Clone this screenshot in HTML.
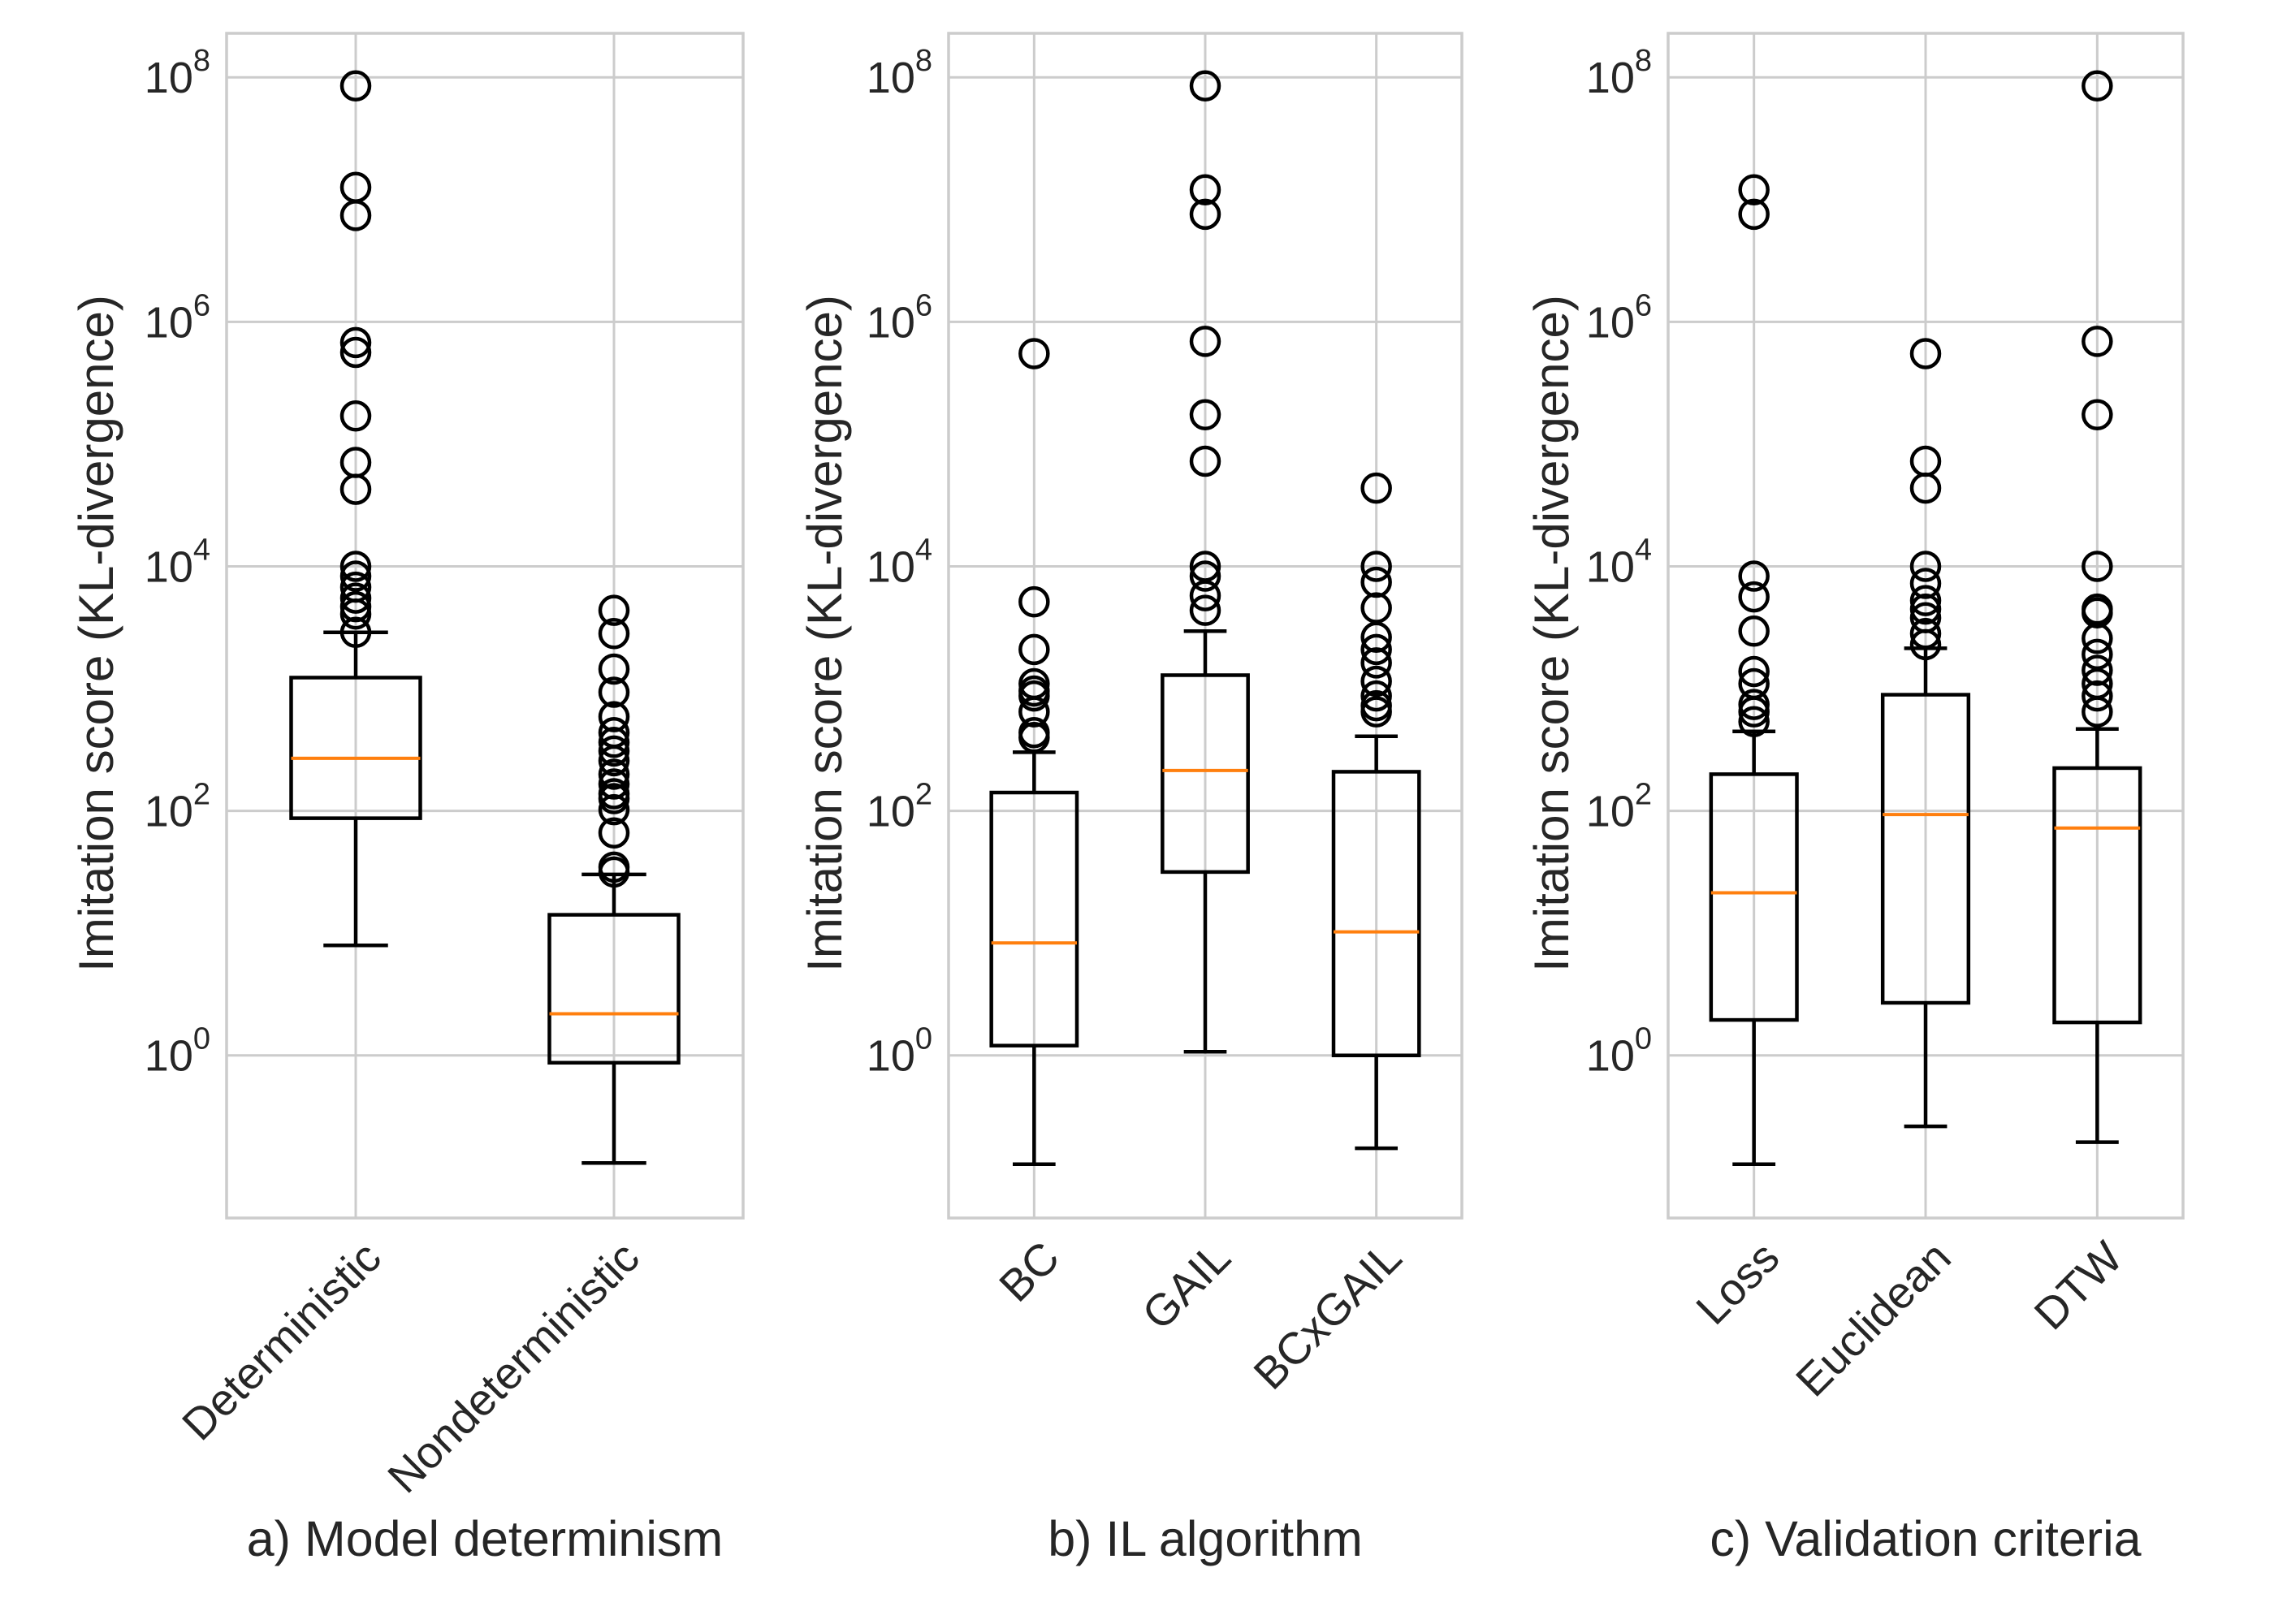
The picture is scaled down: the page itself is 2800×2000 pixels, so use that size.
<!DOCTYPE html>
<html><head><meta charset="utf-8">
<style>
html,body{margin:0;padding:0;background:#fff;}
svg{display:block;font-family:"Liberation Sans",Arial,sans-serif;}
</style></head>
<body>
<svg id="chart" width="2800" height="2000" viewBox="0 0 2800 2000" xmlns="http://www.w3.org/2000/svg"></svg>
<script>
// Data (log10 values of imitation score)
const panelTitles = ["a) Model determinism", "b) IL algorithm", "c) Validation criteria"];
const catsA = ["Deterministic", "Nondeterministic"];
const catsB = ["BC", "GAIL", "BCxGAIL"];
const catsC = ["Loss", "Euclidean", "DTW"];
// [lowWhisker, Q1, median, Q3, highWhisker] in log10
const statsA = [[0.90,1.94,2.43,3.09,3.46],[-0.88,-0.06,0.34,1.15,1.48]];
const statsB = [[-0.89,0.08,0.92,2.15,2.48],[0.03,1.5,2.33,3.11,3.47],[-0.76,0,1.01,2.32,2.61]];
const statsC = [[-0.89,0.29,1.33,2.30,2.65],[-0.58,0.43,1.97,2.95,3.33],[-0.71,0.27,1.86,2.35,2.67]];
const outA = [[7.93,7.10,6.87,5.83,5.75,5.23,4.85,4.63,4.0,3.92,3.83,3.74,3.67,3.61,3.46],
              [3.64,3.45,3.16,2.97,2.77,2.64,2.56,2.49,2.41,2.30,2.22,2.14,2.10,2.01,1.82,1.54,1.50]];
const outB = [[5.74,3.71,3.32,3.04,2.98,2.94,2.81,2.64,2.60],
              [7.93,7.08,6.88,5.84,5.24,4.86,4.0,3.92,3.76,3.64],
              [4.64,4.0,3.87,3.66,3.42,3.32,3.21,3.06,2.94,2.86,2.81]];
const outC = [[7.08,6.88,3.92,3.75,3.47,3.14,3.04,2.87,2.81,2.73],
              [5.74,4.86,4.64,4.0,3.86,3.72,3.65,3.58,3.45,3.36],
              [7.93,5.84,5.24,4.0,3.65,3.62,3.41,3.28,3.15,3.04,2.94,2.81]];
const yTickExps = [0,2,4,6,8];

const NS = "http://www.w3.org/2000/svg";
const svg = document.getElementById("chart");
function mk(tag, attrs, parent){
  const e = document.createElementNS(NS, tag);
  for (const k in attrs) e.setAttribute(k, attrs[k]);
  (parent||svg).appendChild(e);
  return e;
}
const TOP = 41, BOT = 1500;
const LMIN = -1.33, LMAX = 8.36;
function y(l){ return BOT - (l - LMIN) / (LMAX - LMIN) * (BOT - TOP); }

const panels = [
  {x0:279, x1:915, cats:catsA, stats:statsA, outs:outA, ylabX:123},
  {x0:1168, x1:1800, cats:catsB, stats:statsB, outs:outB, ylabX:1020},
  {x0:2054, x1:2688, cats:catsC, stats:statsC, outs:outC, ylabX:1915}
];
const txt = "#262626";

panels.forEach((p, pi) => {
  const g = mk("g", {});
  
  
  const n = p.cats.length;
  const w = p.x1 - p.x0;
  const xc = i => p.x0 + w * (i + 0.5) / n;
  const bw = w / n * 0.5;
  yTickExps.forEach(e => {
    const gy = y(e);
    const gl = mk("line", {x1:p.x0, x2:p.x1, y1:gy, y2:gy, stroke:"#cccccc", "stroke-width":3}, g);
    
    
    const t = mk("text", {x:p.x0 - 20, y:gy + 19, "text-anchor":"end", "font-size":54, fill:txt}, g);
    
    
    t.textContent = "10";
    const s = mk("tspan", {dy:-27, "font-size":38}, t);
    s.textContent = String(e);
  });
  p.cats.forEach((c, i) => {
    const vl = mk("line", {x1:xc(i), x2:xc(i), y1:TOP, y2:BOT, stroke:"#cccccc", "stroke-width":3}, g);
    
    
  });
  const fr = mk("rect", {x:p.x0, y:TOP, width:w, height:BOT-TOP, fill:"none", stroke:"#cccccc", "stroke-width":3.5}, g);
  
  
  p.cats.forEach((c, i) => {
    const s = p.stats[i], x = xc(i);
    const bg = mk("g", {}, g);
    
    
    const L = {stroke:"#000", "stroke-width":4.5, fill:"none"};
    mk("line", Object.assign({x1:x, x2:x, y1:y(s[0]), y2:y(s[1])}, L), bg);
    mk("line", Object.assign({x1:x, x2:x, y1:y(s[3]), y2:y(s[4])}, L), bg);
    mk("line", Object.assign({x1:x-bw/4, x2:x+bw/4, y1:y(s[0]), y2:y(s[0])}, L), bg);
    mk("line", Object.assign({x1:x-bw/4, x2:x+bw/4, y1:y(s[4]), y2:y(s[4])}, L), bg);
    mk("rect", Object.assign({x:x-bw/2, y:y(s[3]), width:bw, height:y(s[1])-y(s[3])}, L), bg);
    const md = mk("line", {x1:x-bw/2, x2:x+bw/2, y1:y(s[2]), y2:y(s[2]), stroke:"#ff7f0e", "stroke-width":4}, bg);
    
    
    p.outs[i].forEach(v => {
      const ci = mk("ellipse", {cx:x, cy:y(v), rx:17, ry:17, fill:"none", stroke:"#000", "stroke-width":4.5}, bg);
      
      
    });
    const tx = x + 6, ty = BOT + 24;
    const xl = mk("text", {x:tx, y:ty, "text-anchor":"end", "font-size":55, fill:txt,
      transform:`rotate(-45 ${tx} ${ty})`, "dominant-baseline":"hanging"}, g);
    
    
    xl.textContent = c;
  });
  const cy = 780;
  const yl = mk("text", {x:p.ylabX, y:cy, "text-anchor":"middle", "font-size":60, fill:txt,
    transform:`rotate(-90 ${p.ylabX} ${cy})`, "dominant-baseline":"middle"}, g);
  
  
  yl.textContent = "Imitation score (KL-divergence)";
  const st = mk("text", {x:(p.x0+p.x1)/2, y:1916, "text-anchor":"middle", "font-size":61, fill:txt}, g);
  
  
  st.textContent = panelTitles[pi];
});
</script>
</body></html>
